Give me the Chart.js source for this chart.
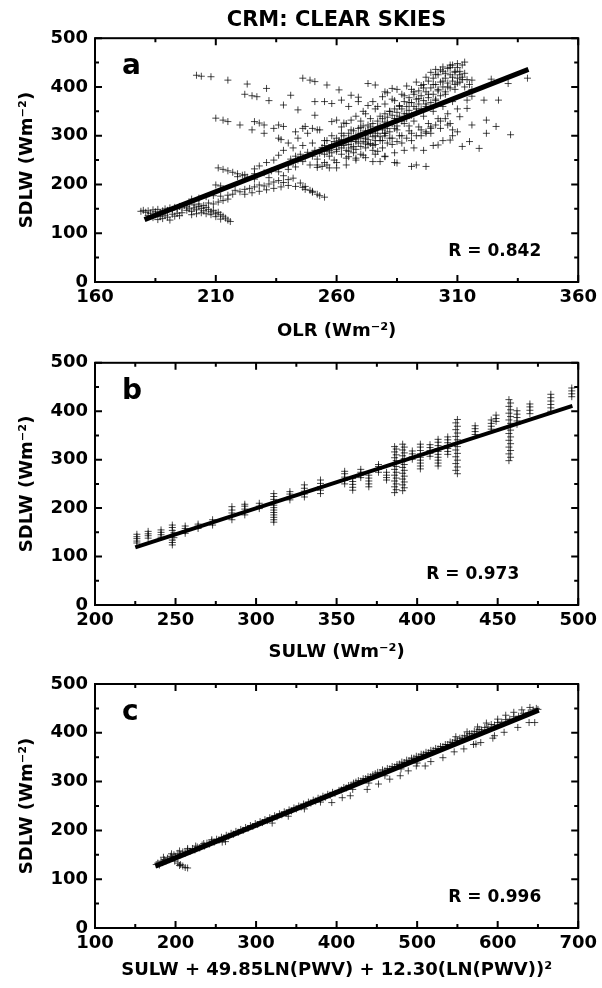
<!DOCTYPE html>
<html>
<head>
<meta charset="utf-8">
<script src="https://cdn.jsdelivr.net/npm/chart.js@4.4.0/dist/chart.umd.min.js"></script>
<style>
  body { margin: 0; background: #fff; width: 602px; height: 988px; overflow: hidden; position: relative; }
  canvas { position: absolute; left: 0; }
</style>
</head>
<body>
<canvas id="chartA" width="602" height="345" style="top:0px"></canvas>
<canvas id="chartB" width="602" height="320" style="top:345px"></canvas>
<canvas id="chartC" width="602" height="323" style="top:665px"></canvas>
<script>
// tick labels
var yTicks = [0, 100, 200, 300, 400, 500];
var olrTicks = [160, 210, 260, 310, 360];
var sulwTicks = [200, 250, 300, 350, 400, 450, 500];
var combTicks = [100, 200, 300, 400, 500, 600, 700];

// panel a : OLR vs SDLW
var fitA = [[180.5, 128], [339.4, 436]];
var aLowCluster = [
  [179,145],[180,147],[181,143],[182,146],[183,141],[184,148],[185,144],[186,149],[187,142],[188,146],
  [189,150],[190,147],[191,152],[192,149],[193,153],[194,150],[195,155],[196,152],[197,157],[198,154],
  [182,136],[184,132],[185,138],[186,128],[187,134],[188,130],[189,137],[190,133],[191,127],[192,139],
  [193,135],[194,141],[195,136],[196,142],[198,147],[199,150],[200,145],[201,152],[202,148],[203,155],
  [204,151],[205,146],[206,153],[207,149],[208,144],[209,147],[210,141],[211,143],[212,138],[213,135],
  [214,131],[215,127],[216,124],[212,129],[210,134],[208,138],[206,140],[204,142],[202,140],[200,138],
  [199,160],[201,158],[203,160],[205,157],[207,162],[209,160],[211,164],[213,167],[215,170],
  [200,170],[203,172],[206,175],[209,177],[212,176],[215,178],[217,180],[210,199],[212,197]
];
var aTailBand = [
  [211,234],[213,231],[215,228],[217,225],[219,222],[221,219],[223,215],[226,211],
  [218,188],[220,185],[222,190],[224,192],[226,195],[228,199],[230,197],[232,201],[234,205],[236,208],
  [238,204],[240,210],[242,213],[222,180],[225,183],[228,186],[231,189],[234,192],[237,195],[240,198],
  [243,196],[246,194],[249,188],[252,180],[255,174],[253,177],[250,184],[247,190],
  [219,216],[222,220],[226,222],[230,224],[233,228],[236,226],[240,231],[243,236],[238,218],[232,214],
  [245,203],[247,196],[250,186]
];
var aCloud = [
  [240,240],[241,252],[242,245],[243,258],[244,250],[245,262],[246,247],[247,255],[248,266],[249,240],
  [250,258],[251,270],[252,252],[253,264],[254,276],[255,245],[256,268],[257,258],[258,282],[259,250],
  [260,272],[261,290],[262,262],[263,280],[264,254],[265,295],[266,275],[267,265],[268,288],[269,300],
  [270,278],[271,260],[272,295],[273,310],[274,284],[275,270],[276,300],[277,318],[278,290],[279,275],
  [280,305],[281,325],[282,295],[283,282],[284,315],[285,335],[286,300],[287,285],[288,325],[289,345],
  [290,310],[291,290],[292,330],[293,355],[294,318],[295,300],[296,340],[297,365],[298,325],[299,305],
  [300,350],[301,372],[302,335],[303,315],[304,360],[305,385],[306,345],[307,325],[308,370],[309,395],
  [310,355],[270,330],[272,345],[274,335],[276,355],[278,340],[280,365],[282,350],[284,372],[286,360],
  [288,382],[290,368],[292,390],[294,376],[296,398],[298,385],[300,405],[302,392],[304,412],[306,400],
  [308,420],[310,408],[297,420],[299,430],[301,426],[303,435],[305,428],[307,440],[309,432],[311,425],
  [312,415],[313,400],[262,318],[264,325],[266,332],[268,340],[271,350],[273,362],[275,370],[277,360],
  [279,380],[281,388],[283,375],[285,395],[287,385],[289,402],[291,395],[293,410],[295,403],
  [252,235],[256,240],[260,245],[264,240],[268,250],[272,255],[276,262],[280,258],[284,265],[288,270],
  [292,275],[296,270],[300,280],[304,290],[308,300],[258,300],[262,305],[255,290],[250,285],[246,280],
  [244,295],[248,305],[253,312],[236,260],[238,270],[234,250],[231,245],[228,238],[226,232],[242,275],
  [240,285],[237,292]
];
var aCore = [
  [255,262],[255,280],[256,290],[257,270],[258,265],[258,278],[259,288],[260,295],[260,268],[261,280],
  [262,275],[262,292],[263,300],[263,285],[264,270],[265,282],[265,305],[266,296],[266,288],[267,278],
  [267,310],[268,300],[268,292],[269,285],[269,315],[270,305],[270,295],[271,288],[271,320],[272,310],
  [272,300],[273,292],[273,282],[274,318],[274,305],[275,325],[275,298],[276,312],[276,290],[277,330],
  [277,305],[278,320],[278,298],[279,335],[279,312],[280,328],[280,300],[280,345],[281,315],[281,338],
  [282,308],[282,350],[283,325],[283,342],[284,335],[284,355],[285,320],[285,348],[286,340],[286,362],
  [287,330],[287,355],[288,345],[288,370],[289,335],[289,360],[290,352],[290,378],[291,342],[291,368],
  [292,360],[292,385],[293,348],[293,375],[294,365],[294,392],[295,355],[295,382],[296,372],[296,405],
  [297,360],[297,390],[298,378],[298,412],[299,368],[299,398],[300,385],[300,418],[301,375],[301,405],
  [302,395],[302,425],[303,382],[303,410],[304,400],[304,432],[305,390],[305,418],[306,408],[306,438],
  [307,398],[307,425],[308,412],[308,445],[309,405],[309,430],[310,418],[310,440],[311,410],[311,432],
  [312,420],[312,445],[313,428],[314,415],[315,405],[316,395],
  [265,268],[268,272],[270,262],[272,275],[275,280],[277,268],[279,290],[281,285],[283,295],[285,288],
  [287,300],[289,295],[291,305],[293,300],[295,312],[297,308],[299,318],[301,322],[303,330],[305,335],
  [290,320],[285,312],[280,305],[276,282],[272,285]
];
var aUpper = [
  [202,424],[204,422],[208,421],[215,414],[223,406],[231,397],[222,385],[225,382],[227,380],[232,372],
  [241,383],[238,363],[244,353],[210,336],[213,332],[215,329],[220,322],[225,312],[226,329],[228,326],
  [230,322],[230,305],[234,315],[236,322],[238,319],[236,295],[243,308],[246,315],[246,418],[249,414],
  [251,411],[256,404],[261,394],[266,383],[269,379],[273,407],[276,404],[280,390],[283,397],[251,370],
  [255,370],[258,366],[262,373],[265,360],[269,370],[251,342],[247,319],[250,315],[252,312],[258,329],
  [260,332],[263,326],[266,312],[270,317],[273,322]
];
var aRight = [
  [301,436],[304,441],[307,445],[310,448],[313,451],[316,414],[316,381],[314,373],[314,356],[311,339],
  [316,322],[310,308],[312,278],[315,288],[307,291],[308,312],[306,322],[302,281],[299,315],[297,305],
  [297,237],[293,240],[291,237],[285,244],[284,245],[280,257],[278,247],[275,247],[268,254],[265,257],
  [260,234],[257,234],[254,237],[252,240],[339,418],[331,407],[327,373],[332,302],[326,319],[322,305],
  [319,274],[322,332],[321,373],[324,416]
];

// panel b : SULW vs SDLW
var fitB = [[225, 119], [496.4, 411]];
var bLow = [
  [226,128],[226,132],[226,137],[226,141],[226,146],[233,138],[233,143],[233,147],[233,152],
  [241,140],[241,145],[241,150],[241,155],[248,124],[248,129],[248,134],[249,139],[248,144],[249,149],
  [248,154],[248,160],[248,165],[256,148],[256,153],[256,158],[256,163],[264,158],[264,163],[264,167],
  [273,165],[273,170],[273,176],[285,176],[285,183],[285,190],[285,196],[285,203],[293,186],[293,192],
  [293,198],[293,204],[293,208],[302,199],[302,204],[302,210],[311,171],[311,176],[311,181],[311,186],
  [311,191],[311,196],[311,201],[311,206],[311,212],[311,218],[311,224],[311,230],[321,217],[321,223],
  [321,229],[321,234],[330,223],[330,229],[330,235],[330,241],[330,248],[340,230],[340,237],[340,244],
  [340,251],[340,258]
];
var bMid = [
  [355,250],[355,257],[355,264],[355,271],[355,276],[360,237],[360,243],[360,249],[360,255],[360,261],
  [365,263],[365,268],[365,274],[365,280],[370,244],[370,250],[370,256],[370,262],[370,268],
  [376,274],[376,280],[376,286],[376,290],[381,258],[381,263],[381,268],[381,274],
  [386,232],[387,238],[386,244],[387,250],[386,256],[387,262],[386,268],[387,274],[386,280],[387,286],
  [386,292],[387,298],[386,304],[387,310],[386,316],[387,322],[386,327],
  [391,236],[392,242],[391,248],[392,254],[391,260],[392,266],[391,272],[392,278],[391,284],[392,290],
  [391,296],[392,302],[391,308],[392,314],[391,320],[392,326],[391,332],
  [397,301],[397,306],[397,312],[397,318],[402,281],[402,287],[402,293],[402,299],[402,305],[402,312],
  [402,319],[402,326],[402,332],[408,307],[408,313],[408,319],[408,325],[408,331]
];
var bHigh = [
  [413,287],[413,293],[413,299],[413,305],[413,311],[413,317],[413,323],[413,329],[413,336],[413,342],
  [419,311],[419,317],[419,323],[419,329],[419,335],[419,341],[419,347],
  [425,271],[424,278],[425,285],[424,292],[425,299],[424,306],[425,313],[424,320],[425,327],[424,334],
  [425,341],[424,348],[425,355],[424,362],[425,369],[424,376],[425,383],
  [436,352],[436,358],[436,364],[436,370],[446,363],[446,369],[446,375],[446,382],[449,379],[449,385],
  [449,392],[457,298],[458,305],[457,312],[458,319],[457,326],[458,333],[457,340],[458,347],[457,354],
  [458,361],[457,368],[458,375],[457,382],[458,389],[457,396],[458,403],[457,410],[458,417],[457,424],
  [462,373],[462,380],[462,387],[462,394],[462,401],[470,395],[470,402],[470,409],[470,415],
  [483,400],[483,407],[483,414],[483,421],[483,428],[483,435],[496,430],[496,436],[496,442],[496,448]
];

// panel c : SULW + 49.85LN(PWV) + 12.30(LN(PWV))^2 vs SDLW
var fitC = [[175, 126.8], [651, 446.5]];
var cBandLow = [
  [176,130],[178,133],[180,129],[182,137],[184,134],[186,140],[188,137],[190,143],[192,140],[194,147],
  [196,143],[198,150],[200,146],[203,153],[206,150],[209,156],[212,153],[215,160],[218,157],[221,163],
  [224,160],[227,166],[230,164],[233,170],[236,168],[239,174],[242,172],[245,178],[248,176],[251,182],
  [254,180],[257,186],[260,184],[263,190],[266,188],[269,194],[272,192],[275,198],[278,196],[281,202],
  [284,200],[287,206],[290,204],[293,210],[296,208],[299,214],[302,212],[305,218],[308,216],[311,222],
  [314,220],[317,226],[320,224],[323,230],[326,228],[329,234],[332,232],[335,238],[338,236],[341,242],
  [344,240],[347,246],[350,244],[353,250],[356,248],[359,254],[362,252],[365,258],[368,256],[371,262],
  [374,260],[377,266],[380,264],[383,270],[386,268],[389,274],[392,272],[395,278],[398,276],
  [185,145],[195,152],[205,158],[215,163],[225,168],[235,173],[245,181]
];
var cBandHigh = [
  [403,282],[406,283],[409,288],[412,287],[415,292],[418,293],[421,297],[424,299],[427,302],[430,301],
  [433,306],[436,306],[439,310],[442,310],[445,314],[448,316],[451,319],[454,318],[457,324],[460,322],
  [463,327],[466,326],[469,331],[472,330],[475,335],[478,336],[481,340],[484,339],[487,344],[490,343],
  [493,348],[496,348],[499,352],[502,351],[505,356],[508,356],[511,360],[514,359],[517,364],[520,364],
  [523,368],[526,367],[529,372],[532,372],[535,376],[538,376],[541,381],[544,380],[547,385],[550,384],
  [553,389],[556,389],[559,394],[562,393],[565,398],[568,398],[571,403],[574,402],[577,407],[580,406],
  [584,411],[588,412],[592,417],[596,416],[600,421],[605,422],[610,427],[615,428],[620,433],[626,434],
  [632,440],[638,441],[644,447],[650,448],
  [600,428],[610,436],[620,442],[630,447],[640,452],[648,450],[586,420],[575,412],[562,402],[548,392]
];
var cBelow = [
  [394,257],[407,267],[417,271],[438,284],[452,295],[466,305],[479,312],[489,322],[499,332],[510,332],
  [517,341],[532,349],[546,361],[558,367],[570,376],[579,380],[596,394],[608,401],[625,411],[639,421],
  [646,421],[573,377],[594,389],[320,215],[340,229],[360,244],[380,258],[420,284],[440,297],[460,312],
  [480,326],[500,338],[258,176],[262,177],[199,137],[203,133],[206,130],[209,127],[212,124],[215,123],
  [205,128]
];

var FONT = "'DejaVu Sans', sans-serif";

function pts(list) {
  return list.map(function(p) { return { x: p[0], y: p[1] }; });
}

function between(ticks) {
  var m = [];
  for (var i = 0; i < ticks.length - 1; i++) m.push((ticks[i] + ticks[i + 1]) / 2);
  return m;
}

// box round the plot with inward ticks, panel letter and R value
var framePlugin = {
  id: 'frame',
  afterDatasetsDraw: function(chart, args, opts) {
    var ctx = chart.ctx, a = chart.chartArea;
    var xs = chart.scales.x, ys = chart.scales.y;
    ctx.save();
    ctx.strokeStyle = '#000';
    ctx.lineWidth = 2;
    ctx.strokeRect(a.left, a.top, a.right - a.left, a.bottom - a.top);
    function marks(scale, values, len) {
      values.forEach(function(v) {
        var p = scale.getPixelForValue(v);
        ctx.beginPath();
        if (scale.isHorizontal()) {
          ctx.moveTo(p, a.bottom); ctx.lineTo(p, a.bottom - len);
          ctx.moveTo(p, a.top); ctx.lineTo(p, a.top + len);
        } else {
          ctx.moveTo(a.left, p); ctx.lineTo(a.left + len, p);
          ctx.moveTo(a.right, p); ctx.lineTo(a.right - len, p);
        }
        ctx.stroke();
      });
    }
    marks(xs, opts.xTicks, 7);
    marks(xs, between(opts.xTicks), 4);
    marks(ys, yTicks, 7);
    marks(ys, between(yTicks), 4);
    ctx.fillStyle = '#000';
    ctx.font = 'bold 28px ' + FONT;
    ctx.textAlign = 'left';
    ctx.textBaseline = 'alphabetic';
    ctx.fillText(opts.letter, a.left + 27, a.top + 36);
    ctx.font = 'bold 17px ' + FONT;
    ctx.textAlign = 'right';
    ctx.fillText(opts.r, a.right - opts.rRight, a.bottom - 26);
    ctx.restore();
  }
};

function makePanel(id, p) {
  var sets = [{
    type: 'line',
    data: pts(p.fit),
    borderColor: '#000',
    borderWidth: p.fitWidth,
    pointRadius: 0,
    showLine: true,
    fill: false
  }];
  p.groups.forEach(function(g) {
    sets.push({
      data: pts(g),
      pointStyle: 'cross',
      pointRadius: 3.5,
      borderWidth: 1,
      borderColor: 'rgba(0,0,0,0.72)',
      backgroundColor: 'rgba(0,0,0,0.72)'
    });
  });
  var tickFont = { family: FONT, size: 18, weight: 'bold' };
  return new Chart(document.getElementById(id), {
    type: 'scatter',
    data: { datasets: sets },
    options: {
      responsive: false,
      animation: false,
      layout: { padding: { top: p.padTop, right: p.padRight, left: 0, bottom: 0 } },
      plugins: {
        legend: { display: false },
        tooltip: { enabled: false },
        title: {
          display: !!p.title,
          text: p.title || '',
          fullSize: false,
          color: '#000',
          font: { family: FONT, size: 21, weight: 'bold' },
          padding: { top: 0, bottom: 5 }
        },
        frame: { xTicks: p.xTicks, letter: p.letter, r: p.r, rRight: p.rRight }
      },
      scales: {
        x: {
          type: 'linear',
          min: p.xTicks[0],
          max: p.xTicks[p.xTicks.length - 1],
          afterBuildTicks: function(s) { s.ticks = p.xTicks.map(function(v) { return { value: v }; }); },
          afterFit: function(s) { s.height = p.xAxisH; },
          grid: { display: false, drawTicks: false },
          border: { display: false },
          ticks: { color: '#000', font: tickFont, padding: 5, maxRotation: 0, autoSkip: false },
          title: { display: true, text: p.xTitle, color: '#000', font: tickFont, padding: { top: 0, bottom: p.xTitlePad } }
        },
        y: {
          min: 0,
          max: 500,
          afterBuildTicks: function(s) { s.ticks = yTicks.map(function(v) { return { value: v }; }); },
          afterFit: function(s) { s.width = 95; },
          grid: { display: false, drawTicks: false },
          border: { display: false },
          ticks: { color: '#000', font: tickFont, padding: 7 },
          title: { display: true, text: 'SDLW (Wm\u207B\u00B2)', color: '#000', font: tickFont, padding: { top: 17, bottom: 0 } }
        }
      }
    },
    plugins: [framePlugin]
  });
}

makePanel('chartA', {
  title: 'CRM: CLEAR SKIES', padTop: 8, padRight: 20, xAxisH: 63, xTitlePad: 3,
  xTicks: olrTicks, xTitle: 'OLR (Wm\u207B\u00B2)', letter: 'a', r: 'R = 0.842', rRight: 37,
  fit: fitA, fitWidth: 5, groups: [aLowCluster, aTailBand, aCloud, aCore, aUpper, aRight]
});
makePanel('chartB', {
  padTop: 15, padRight: 21, xAxisH: 60, xTitlePad: 2,
  xTicks: sulwTicks, xTitle: 'SULW (Wm\u207B\u00B2)', letter: 'b', r: 'R = 0.973', rRight: 59,
  fit: fitB, fitWidth: 4, groups: [bLow, bMid, bHigh]
});
makePanel('chartC', {
  padTop: 19, padRight: 21, xAxisH: 60, xTitlePad: 7,
  xTicks: combTicks, xTitle: 'SULW + 49.85LN(PWV) + 12.30(LN(PWV))\u00B2', letter: 'c', r: 'R = 0.996', rRight: 37,
  fit: fitC, fitWidth: 5, groups: [cBandLow, cBandHigh, cBelow]
});
</script>
</body>
</html>
